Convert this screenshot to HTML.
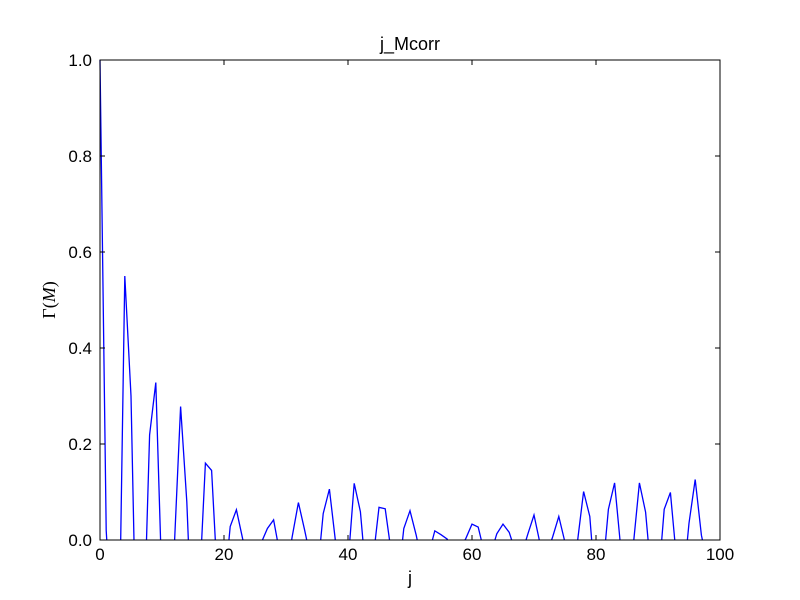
<!DOCTYPE html>
<html><head><meta charset="utf-8"><style>
html,body{margin:0;padding:0;background:#fff;width:800px;height:600px;overflow:hidden;}
svg{display:block;font-family:"Liberation Sans",sans-serif;}
</style></head><body>
<svg id="chart" width="800" height="600" viewBox="0 0 800 600">
<rect width="800" height="600" fill="#fff"/>
<text x="410" y="50" text-anchor="middle" font-size="18">j_Mcorr</text>
<g id="plot"></g>
<g id="axes"></g>
<text x="410" y="584" text-anchor="middle" font-size="18">j</text>
<text transform="translate(55,300) rotate(-90)" text-anchor="middle" font-size="18" font-family="'Liberation Serif',serif">Γ(<tspan font-style="italic">M</tspan>)</text>
</svg>
<script>
const jValues = [1.0,0.02,-0.2,-0.28,0.55,0.30,-0.325,-0.219,0.219,0.328,
-0.098,-0.2,-0.01,0.278,0.08,-0.24,-0.107,0.16,0.145,-0.097,
-0.11,0.028,0.063,0.003,-0.05,-0.03,-0.006,0.024,0.042,-0.028,
-0.07,0.007,0.078,0.021,-0.04,-0.08,0.055,0.106,-0.005,-0.06,
-0.05,0.118,0.059,-0.088,-0.045,0.068,0.065,-0.028,-0.096,0.024,
0.061,0.01,-0.05,-0.03,0.019,0.011,0.002,-0.03,-0.02,0.003,
0.033,0.027,-0.027,-0.03,0.013,0.033,0.016,-0.024,-0.03,0.012,
0.052,-0.009,-0.03,0.006,0.049,-0.005,-0.06,-0.005,0.101,0.049,
-0.114,-0.078,0.064,0.119,-0.018,-0.06,-0.013,0.119,0.058,-0.087,
-0.096,0.064,0.099,-0.042,-0.1,0.035,0.126,0.01,-0.05,-0.05];
const xTicks = [0,20,40,60,80,100];
const yTicks = [0.0,0.2,0.4,0.6,0.8,1.0];
const yTickLabels = ["0.0","0.2","0.4","0.6","0.8","1.0"];

const L=100,R=720,T=60,B=540;
const sx=v=>L+(v-0)/(100-0)*(R-L);
const sy=v=>B-(v-0)/(1-0)*(B-T);
const NS="http://www.w3.org/2000/svg";
const plot=document.getElementById('plot'), axes=document.getElementById('axes');
function mk(tag,attrs,parent){const e=document.createElementNS(NS,tag);for(const k in attrs)e.setAttribute(k,attrs[k]);parent.appendChild(e);return e;}

// clip series at y=0 into visible segments
const segs=[]; let cur=[];
for(let i=0;i<jValues.length;i++){
  const v=jValues[i];
  if(i>0){
    const p=jValues[i-1];
    if((p>=0)!==(v>=0)){
      const t=p/(p-v); const xc=(i-1)+t;
      cur.push([xc,0]);
      if(p>=0){segs.push(cur);cur=[];}
    }
  }
  if(v>=0) cur.push([i,v]);
}
if(cur.length) segs.push(cur);
segs.forEach(s=>{
  if(s.length<2) return;
  const pts=s.map(q=>sx(q[0]).toFixed(2)+','+sy(q[1]).toFixed(2)).join(' ');
  const line=mk('polyline',{points:pts,fill:'none',stroke:'#0000ff','stroke-width':1.3},plot);
  
  
});

const frame=mk('rect',{x:L,y:T,width:R-L,height:B-T,fill:'none',stroke:'#000','stroke-width':1},axes);



xTicks.forEach(t=>{
  const x=sx(t);
  mk('line',{x1:x,y1:B,x2:x,y2:B-5,stroke:'#000'},axes);
  mk('line',{x1:x,y1:T,x2:x,y2:T+5,stroke:'#000'},axes);
  const lb=mk('text',{x:x,y:B+20,'text-anchor':'middle','font-size':17},axes);
  lb.textContent=t;
  
  
});
yTicks.forEach((t,i)=>{
  const y=sy(t);
  mk('line',{x1:L,y1:y,x2:L+5,y2:y,stroke:'#000'},axes);
  mk('line',{x1:R,y1:y,x2:R-5,y2:y,stroke:'#000'},axes);
  const lb=mk('text',{x:L-8,y:y+6,'text-anchor':'end','font-size':17},axes);
  lb.textContent=yTickLabels[i];
  
  
});
</script>
</body></html>
